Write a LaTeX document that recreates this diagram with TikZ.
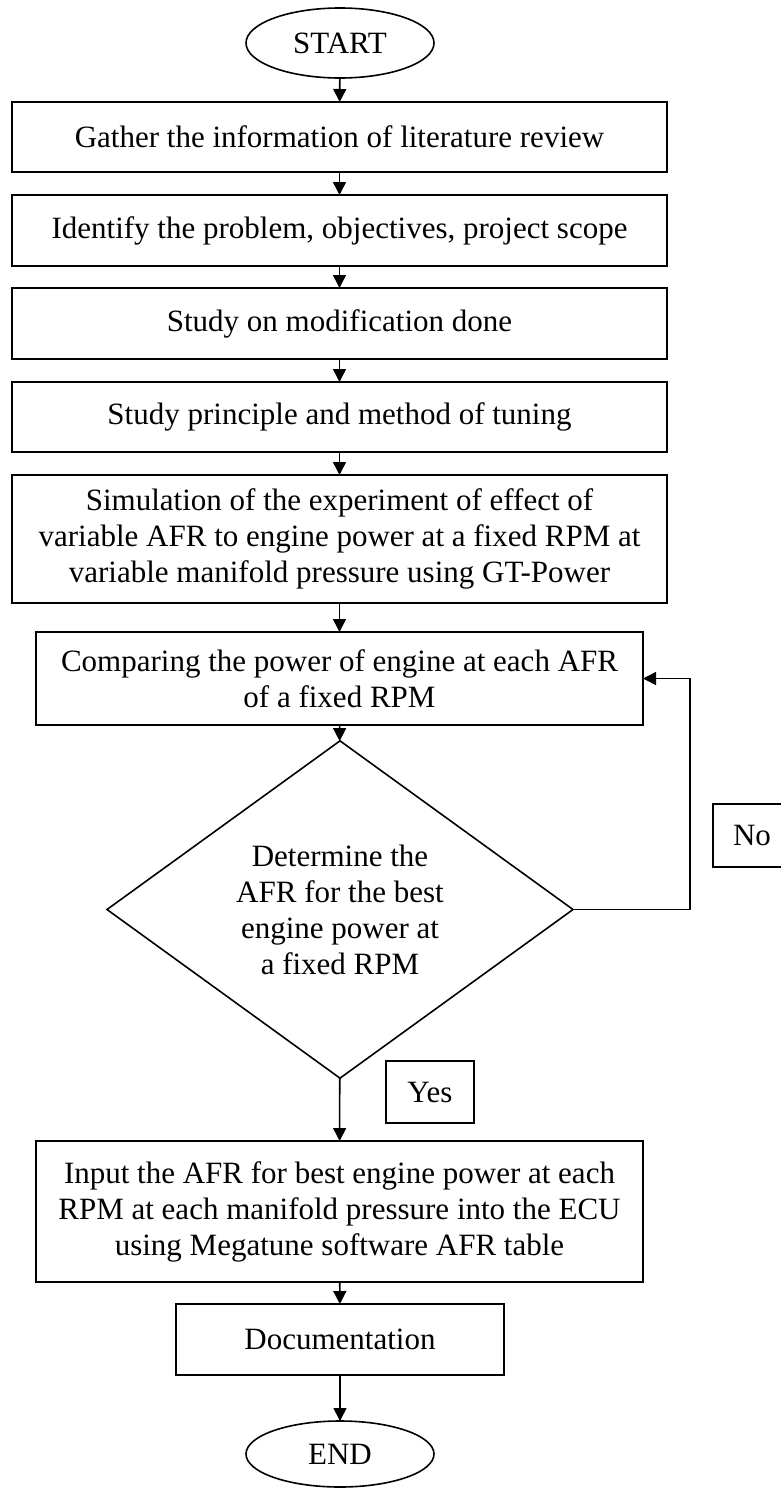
\documentclass[tikz,border=0pt]{standalone}
\usepackage{fontspec}
\setmainfont{Liberation Serif}
\usetikzlibrary{shapes.geometric,arrows.meta}
\begin{document}
\begin{tikzpicture}[x=1pt,y=-1pt,
  every node/.style={font=\fontsize{31}{36}\selectfont, line width=1.6pt, outer sep=0pt, inner sep=2pt},
  procbox/.style={draw, rectangle, align=center},
  termnode/.style={draw, ellipse, minimum width=188pt},
  decnode/.style={draw, diamond, minimum width=466pt, minimum height=303pt, inner sep=0pt, align=center},
  labbox/.style={draw, rectangle},
  flow/.style={line width=1.6pt, -{Triangle[length=13pt,width=13pt]}},
  plain/.style={line width=1.6pt}]
\useasboundingbox (0,0) rectangle (781,1488);
\fill[white] (0,0) rectangle (781,1488);
\node[termnode, minimum height=70pt] (start) at (340,43) {START};
\node[procbox, minimum width=655pt, minimum height=70pt] (b1) at (339.5,137) {Gather the information of literature review};
\node[procbox, minimum width=655pt, minimum height=71pt] (b2) at (339.5,230.5) {Identify the problem, objectives, project scope};
\node[procbox, minimum width=655pt, minimum height=71pt] (b3) at (339.5,323.5) {Study on modification done};
\node[procbox, minimum width=655pt, minimum height=70pt] (b4) at (339.5,417) {Study principle and method of tuning};
\node[procbox, minimum width=655pt, minimum height=128pt] (b5) at (339.5,539) {Simulation of the experiment of effect of\\variable AFR to engine power at a fixed RPM at\\variable manifold pressure using GT-Power};
\node[procbox, minimum width=607pt, minimum height=93pt] (b6) at (339.5,678.5) {Comparing the power of engine at each AFR\\of a fixed RPM};
\node[decnode] (dec) at (340,909.5) {Determine the\\AFR for the best\\engine power at\\a fixed RPM};
\node[labbox, minimum width=78pt, minimum height=63pt] (no) at (752,835.5) {No};
\node[labbox, minimum width=88pt, minimum height=62pt] (yes) at (430,1092) {Yes};
\node[procbox, minimum width=607pt, minimum height=141pt] (b7) at (339.5,1211.5) {Input the AFR for best engine power at each\\RPM at each manifold pressure into the ECU\\using Megatune software AFR table};
\node[procbox, minimum width=328pt, minimum height=71pt] (b8) at (340,1339.5) {Documentation};
\node[termnode, minimum height=66pt] (end) at (340,1454) {END};
\coordinate (fb) at (690,909.5);
\draw[flow] (start) -- (b1);
\draw[flow] (b1) -- (b2);
\draw[flow] (b2) -- (b3);
\draw[flow] (b3) -- (b4);
\draw[flow] (b4) -- (b5);
\draw[flow] (b5) -- (b6);
\draw[flow] (b6) -- (dec);
\draw[flow] (dec) -- (b7);
\draw[flow] (b7) -- (b8);
\draw[flow] (b8) -- (end);
\draw[flow] (dec.east) -- (fb) |- (b6.east);
\end{tikzpicture}
\end{document}
